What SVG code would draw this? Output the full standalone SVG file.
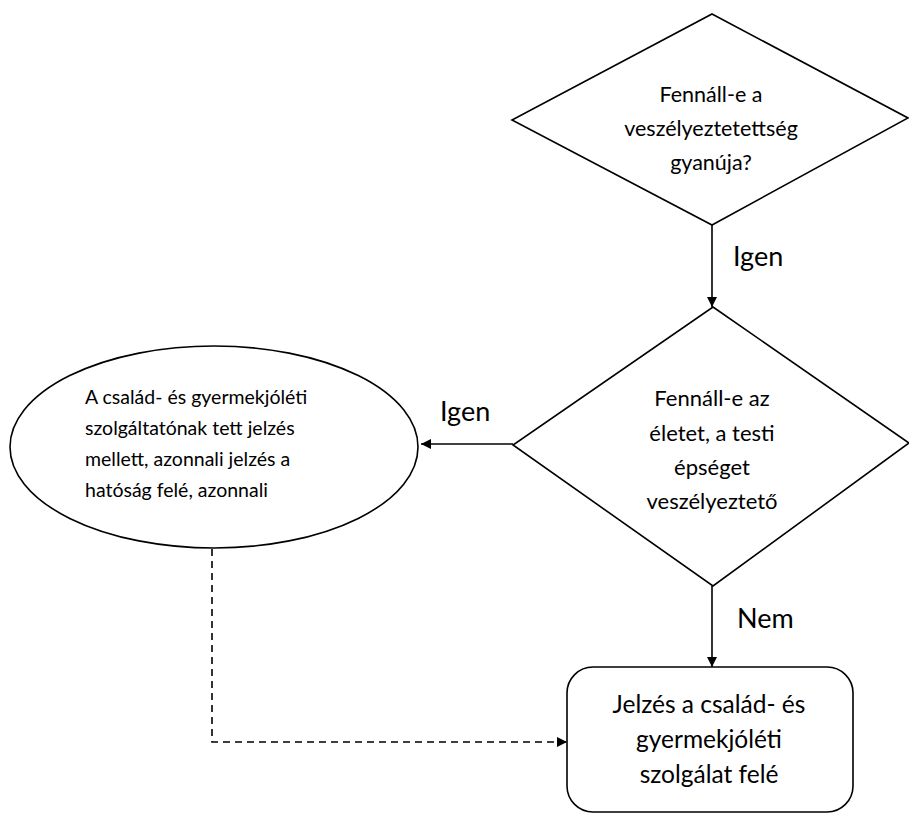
<svg xmlns="http://www.w3.org/2000/svg" width="909" height="815" viewBox="0 0 909 815">
<defs>
<marker id="ah" viewBox="0 0 10 10" refX="10" refY="5" markerWidth="11" markerHeight="10" markerUnits="userSpaceOnUse" orient="auto">
<path d="M0,0 L10,5 L0,10 z" fill="#000"/>
</marker>
</defs>
<style>
.shape{fill:#fff;stroke:#000;stroke-width:1.6}
.t{font-family:Lato,"Liberation Sans",sans-serif;font-size:21.5px;fill:#000;text-anchor:middle}
.t2{font-size:22px}
.tb{font-size:24.5px}
.te{font-family:Lato,"Liberation Sans",sans-serif;font-size:19.5px;fill:#000}
.lbl{font-family:Lato,"Liberation Sans",sans-serif;font-size:27px;fill:#000}
.c{fill:none;stroke:#000;stroke-width:1.6}
.d{stroke-dasharray:7,5}
</style>
<rect width="909" height="815" fill="#fff"/>
<g id="connectors">
<line class="c" x1="712" y1="225" x2="712" y2="307" marker-end="url(#ah)"/>
<line class="c" x1="513" y1="444" x2="421" y2="444" marker-end="url(#ah)"/>
<line class="c" x1="712" y1="586" x2="712" y2="667" marker-end="url(#ah)"/>
<polyline class="c d" points="212,549 212,742 567,742" marker-end="url(#ah)"/>
<text class="lbl" x="733" y="266">Igen</text>
<text class="lbl" x="440" y="421">Igen</text>
<text class="lbl" x="737" y="628">Nem</text>
</g>
<g id="q1">
<polygon class="shape" points="712,14 908,118 712,225 512,120"/>
<text class="t" x="711" y="102">Fennáll-e a</text>
<text class="t" x="711" y="136">veszélyeztetettség</text>
<text class="t" x="711" y="170">gyanúja?</text>
</g>
<g id="q2">
<polygon class="shape" points="713,307 909,443 713,586 513,445"/>
<text class="t t2" x="712" y="406">Fennáll-e az</text>
<text class="t t2" x="712" y="441">életet, a testi</text>
<text class="t t2" x="712" y="475">épséget</text>
<text class="t t2" x="712" y="509">veszélyeztető</text>
</g>
<g id="urgent">
<ellipse class="shape" cx="214" cy="447" rx="204" ry="101"/>
<text class="te" x="85" y="404">A család- és gyermekjóléti</text>
<text class="te" x="85" y="435">szolgáltatónak tett jelzés</text>
<text class="te" x="85" y="466">mellett, azonnali jelzés a</text>
<text class="te" x="85" y="497">hatóság felé, azonnali</text>
</g>
<g id="signal">
<rect class="shape" x="567" y="667" width="286" height="145" rx="26" ry="26"/>
<text class="t tb" x="709" y="713">Jelzés a család- és</text>
<text class="t tb" x="709" y="748">gyermekjóléti</text>
<text class="t tb" x="709" y="783">szolgálat felé</text>
</g>
</svg>
